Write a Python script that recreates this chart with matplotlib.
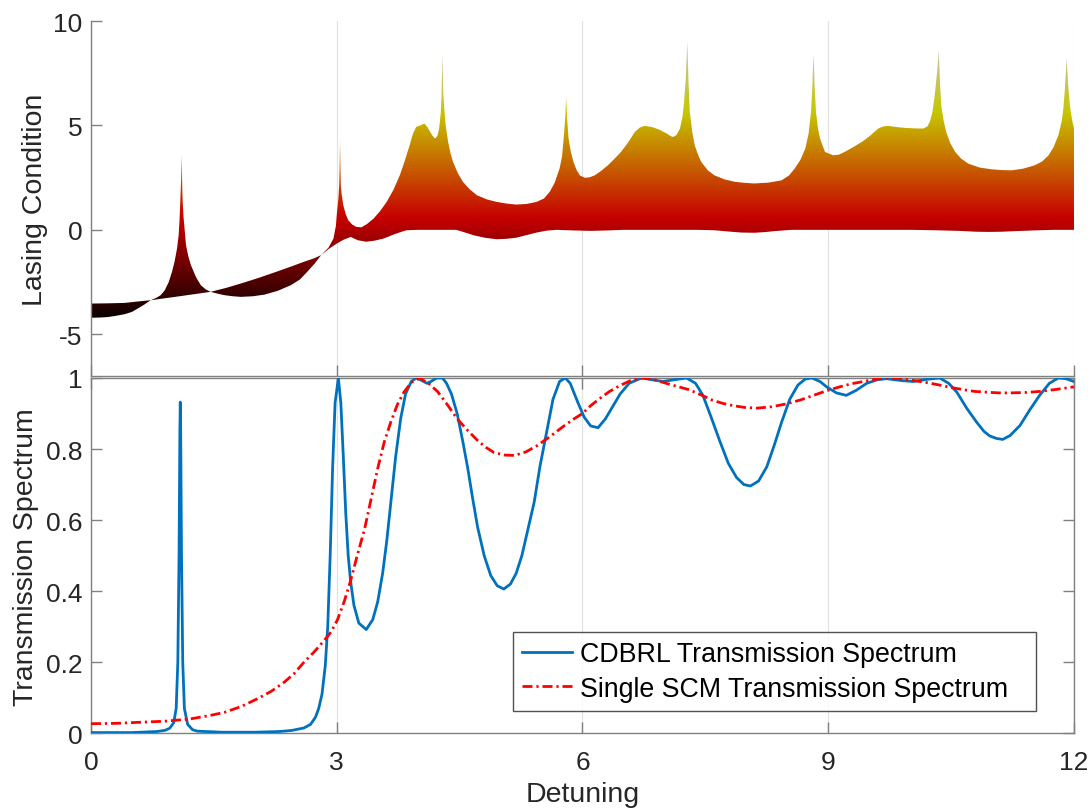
import numpy as np
import matplotlib
matplotlib.use('Agg')
import matplotlib.pyplot as plt
from matplotlib.colors import ListedColormap

plt.rcParams['font.family'] = ['Liberation Sans', 'DejaVu Sans']

# lasing condition: upper and lower envelope of the swept curves
xu = [0.00, 0.20, 0.41, 0.60, 0.73, 0.80, 0.85, 0.90, 0.95, 0.99, 1.02, 1.05, 1.07, 1.08, 1.09, 1.10,
      1.107, 1.115, 1.12, 1.13, 1.16, 1.19, 1.22, 1.28, 1.34, 1.40, 1.46,
      1.65, 1.83, 2.04, 2.24, 2.42, 2.60, 2.72, 2.81, 2.90, 2.96, 2.99, 3.00, 3.02, 3.03, 3.035,
      3.04, 3.045, 3.05, 3.06, 3.08, 3.11, 3.14, 3.19, 3.24, 3.30, 3.37, 3.45, 3.53, 3.61, 3.69,
      3.77, 3.83, 3.89, 3.93, 3.97, 4.02, 4.07, 4.11, 4.14, 4.17, 4.20, 4.23, 4.25, 4.27, 4.28,
      4.29, 4.30, 4.31, 4.33, 4.36, 4.39, 4.42, 4.48, 4.54, 4.62, 4.71, 4.83, 4.95, 5.07, 5.19,
      5.32, 5.44, 5.53, 5.60, 5.66, 5.72, 5.75, 5.77, 5.79, 5.80, 5.815, 5.83, 5.86, 5.89, 5.93,
      5.97, 6.03, 6.09, 6.15, 6.23, 6.31, 6.39, 6.47, 6.56, 6.64, 6.70, 6.76, 6.85, 6.93, 7.03,
      7.08, 7.11, 7.15, 7.19, 7.22, 7.24, 7.26, 7.28, 7.295, 7.31, 7.34, 7.37, 7.41, 7.45, 7.53,
      7.61, 7.73, 7.86, 7.98, 8.10, 8.27, 8.43, 8.52, 8.59, 8.66, 8.72, 8.76, 8.79, 8.805, 8.82,
      8.835, 8.85, 8.875, 8.90, 8.96, 9.06, 9.13, 9.20, 9.30, 9.41, 9.51, 9.61, 9.67, 9.73, 9.84,
      9.94, 10.05, 10.16, 10.21, 10.24, 10.27, 10.30, 10.33, 10.35, 10.365, 10.38, 10.41, 10.44,
      10.49, 10.55, 10.62, 10.71, 10.85, 10.99, 11.12, 11.24, 11.38, 11.52, 11.61, 11.69, 11.75,
      11.81, 11.85, 11.87, 11.89, 11.91, 11.93, 11.95, 11.975, 12.00]
yu = [-3.53, -3.52, -3.50, -3.42, -3.37, -3.25, -3.13, -2.90, -2.49, -2.00, -1.53, -0.90, -0.26, 0.40, 1.35, 2.40,
      3.57, 1.90, 1.30, 0.60, -0.74, -1.30, -1.69, -2.25, -2.65, -2.85, -2.97,
      -2.78, -2.57, -2.31, -2.04, -1.79, -1.53, -1.37, -1.21, -0.85, -0.42, 0.20, 0.70, 1.50, 2.13, 3.00,
      4.29, 3.00, 2.13, 1.70, 1.18, 0.75, 0.46, 0.25, 0.14, 0.12, 0.28, 0.54, 0.90, 1.34, 1.90,
      2.61, 3.30, 4.05, 4.60, 4.93, 5.00, 5.09, 4.90, 4.69, 4.50, 4.37, 4.50, 4.85, 5.60, 6.44,
      8.44, 6.60, 5.96, 5.00, 4.21, 3.65, 3.25, 2.70, 2.30, 1.95, 1.66, 1.46, 1.34, 1.26, 1.21,
      1.24, 1.34, 1.50, 1.82, 2.25, 2.93, 3.50, 4.37, 5.40, 6.36, 5.20, 4.37, 3.70, 3.25, 2.85,
      2.60, 2.49, 2.52, 2.61, 2.83, 3.09, 3.40, 3.73, 4.20, 4.69, 4.90, 4.98, 4.92, 4.81, 4.61,
      4.48, 4.45, 4.55, 4.85, 5.40, 6.12, 7.20, 9.02, 7.00, 5.65, 4.70, 4.05, 3.60, 3.25, 2.85,
      2.61, 2.42, 2.30, 2.25, 2.22, 2.26, 2.37, 2.60, 2.93, 3.35, 3.89, 4.60, 5.65, 6.80, 8.44,
      6.80, 5.65, 4.85, 4.37, 3.73, 3.57, 3.60, 3.73, 3.95, 4.21, 4.50, 4.85, 4.95, 4.98, 4.92,
      4.88, 4.86, 4.85, 4.95, 5.17, 5.60, 6.44, 7.60, 8.60, 7.00, 5.96, 5.20, 4.69,
      4.15, 3.73, 3.42, 3.17, 2.98, 2.90, 2.86, 2.85, 2.93, 3.09, 3.27, 3.57, 3.95,
      4.53, 5.20, 5.80, 6.80, 8.20, 6.90, 5.96, 5.30, 4.85]
xl = [0.00, 0.10, 0.20, 0.30, 0.41, 0.50, 0.57, 0.65, 0.73, 1.10, 1.46, 1.55, 1.63, 1.73, 1.83, 1.98,
      2.12, 2.28, 2.44, 2.55, 2.64, 2.73, 2.81, 2.90, 3.00, 3.08, 3.17, 3.26, 3.36, 3.46, 3.57, 3.71,
      3.85, 4.00, 4.14, 4.46, 4.56, 4.67, 4.81, 4.95, 5.07, 5.19, 5.32, 5.44, 5.56, 5.68, 5.90, 6.10,
      6.30, 6.50, 7.40, 7.61, 7.78, 7.94, 8.10, 8.22, 8.35, 8.55, 10.00, 10.30, 10.60, 10.80, 10.96,
      11.12, 11.30, 11.50, 11.75, 12.00]
yl = [-4.21, -4.20, -4.18, -4.12, -4.04, -3.93, -3.77, -3.58, -3.37, -3.17, -2.97, -3.06, -3.13, -3.18, -3.21, -3.18,
      -3.10, -2.92, -2.65, -2.38, -2.01, -1.62, -1.21, -0.92, -0.66, -0.48, -0.34, -0.50, -0.57, -0.52, -0.42, -0.20,
      -0.02, 0.00, 0.00, 0.00, -0.12, -0.26, -0.38, -0.45, -0.43, -0.38, -0.25, -0.13, -0.04, 0.00, -0.03, -0.05,
      -0.03, 0.00, 0.00, -0.02, -0.08, -0.13, -0.14, -0.11, -0.06, 0.00, 0.00, -0.02, -0.05, -0.09, -0.10,
      -0.09, -0.06, -0.03, 0.00, 0.00]

# transmission spectra
xb = [0.00, 0.50, 0.80, 0.90, 0.96, 1.01, 1.04, 1.06, 1.075, 1.085, 1.09, 1.095, 1.105, 1.12, 1.14, 1.18,
      1.24, 1.30, 1.60, 2.00, 2.30, 2.45, 2.60, 2.68, 2.74, 2.78, 2.82, 2.86, 2.89, 2.92, 2.95, 2.98,
      3.02, 3.05, 3.08, 3.11, 3.14, 3.17, 3.21, 3.27, 3.36, 3.44, 3.50, 3.56, 3.61, 3.66, 3.72, 3.78,
      3.84, 3.91, 3.97, 4.02, 4.10, 4.15, 4.22, 4.29, 4.34, 4.40, 4.47, 4.54, 4.60, 4.66, 4.72, 4.80,
      4.88, 4.96, 5.04, 5.12, 5.19, 5.26, 5.33, 5.41, 5.48, 5.57, 5.64, 5.72, 5.79, 5.85, 5.94, 6.02,
      6.10, 6.19, 6.28, 6.37, 6.46, 6.57, 6.72, 6.85, 6.98, 7.12, 7.27, 7.38, 7.47, 7.57, 7.68, 7.78,
      7.88, 7.97, 8.05, 8.15, 8.25, 8.34, 8.43, 8.53, 8.63, 8.72, 8.80, 8.90, 8.98, 9.10, 9.22, 9.34,
      9.47, 9.60, 9.71, 9.88, 10.04, 10.20, 10.36, 10.47, 10.57, 10.69, 10.81, 10.90, 10.97, 11.05,
      11.13, 11.22, 11.34, 11.46, 11.58, 11.70, 11.81, 11.90, 12.00]
yb = [0.002, 0.002, 0.005, 0.008, 0.014, 0.03, 0.07, 0.20, 0.50, 0.85, 0.932, 0.85, 0.50, 0.20, 0.07, 0.025,
      0.010, 0.006, 0.003, 0.003, 0.005, 0.008, 0.015, 0.025, 0.045, 0.07, 0.11, 0.19, 0.30, 0.50, 0.75, 0.93,
      1.00, 0.93, 0.78, 0.62, 0.50, 0.426, 0.36, 0.31, 0.292, 0.32, 0.37, 0.45, 0.54, 0.65, 0.78, 0.885,
      0.955, 0.99, 1.00, 0.995, 0.985, 0.99, 1.00, 1.00, 0.985, 0.955, 0.90, 0.82, 0.745, 0.66, 0.58, 0.50,
      0.444, 0.415, 0.406, 0.42, 0.45, 0.50, 0.57, 0.65, 0.75, 0.857, 0.94, 0.99, 1.00, 0.985, 0.933, 0.89,
      0.865, 0.86, 0.885, 0.92, 0.955, 0.985, 1.00, 0.995, 0.99, 0.995, 1.00, 0.985, 0.951, 0.89, 0.82, 0.76,
      0.72, 0.70, 0.696, 0.71, 0.75, 0.81, 0.875, 0.94, 0.98, 0.997, 1.00, 0.99, 0.975, 0.958, 0.951, 0.965,
      0.985, 0.995, 0.998, 0.993, 0.99, 0.996, 1.00, 0.985, 0.96, 0.915, 0.876, 0.85, 0.837, 0.83,
      0.827, 0.838, 0.866, 0.91, 0.951, 0.985, 1.00, 0.998, 0.99]
xr = [0.00, 0.30, 0.60, 0.90, 1.20, 1.45, 1.63, 1.83, 2.03, 2.20, 2.36, 2.48, 2.60, 2.72, 2.85, 2.93,
      3.01, 3.09, 3.17, 3.25, 3.34, 3.42, 3.50, 3.58, 3.66, 3.74, 3.82, 3.91, 4.01, 4.12, 4.23, 4.35,
      4.47, 4.60, 4.72, 4.82, 4.92, 5.05, 5.17, 5.31, 5.45, 5.62, 5.78, 5.89, 6.00, 6.10, 6.21, 6.33,
      6.46, 6.60, 6.74, 6.88, 7.02, 7.16, 7.30, 7.45, 7.59, 7.72, 7.84, 7.98, 8.13, 8.31, 8.49, 8.66,
      8.82, 8.98, 9.14, 9.29, 9.43, 9.57, 9.71, 9.88, 10.04, 10.20, 10.36, 10.50, 10.65, 10.79, 10.93,
      11.08, 11.22, 11.40, 11.58, 11.79, 12.00]
yr = [0.027, 0.028, 0.031, 0.034, 0.040, 0.050, 0.059, 0.075, 0.097, 0.118, 0.144, 0.168, 0.200, 0.228, 0.262, 0.285,
      0.320, 0.370, 0.430, 0.500, 0.575, 0.660, 0.745, 0.820, 0.876, 0.925, 0.960, 0.987, 1.000, 0.985, 0.962, 0.925,
      0.885, 0.852, 0.824, 0.805, 0.790, 0.783, 0.782, 0.792, 0.810, 0.838, 0.866, 0.884, 0.900, 0.922, 0.942, 0.962,
      0.979, 0.994, 1.000, 0.995, 0.985, 0.976, 0.967, 0.952, 0.937, 0.928, 0.922, 0.917, 0.915, 0.919, 0.927, 0.938,
      0.951, 0.964, 0.975, 0.984, 0.990, 0.996, 1.000, 0.998, 0.993, 0.987, 0.980, 0.973, 0.967, 0.962, 0.960,
      0.958, 0.958, 0.959, 0.962, 0.968, 0.975]

xticks = [0, 3, 6, 9, 12]
txt = '#262626'
spine = '#808080'

# dimmed "hot" colormap
hot = plt.get_cmap('hot')(np.linspace(0, 1, 256))
hot[:, :3] *= 0.78
dimhot = ListedColormap(hot)

fig = plt.figure(figsize=(10.91, 8.12), dpi=100)
ax1 = fig.add_axes([0.0834, 0.5357, 0.901, 0.4372])
ax2 = fig.add_axes([0.0834, 0.0957, 0.901, 0.4376])

# top panel: gradient clipped to the envelope polygon
poly = ax1.fill(np.concatenate([xu, xl[::-1]]), np.concatenate([yu, yl[::-1]]),
                facecolor='none', edgecolor='none')[0]
grad = np.linspace(-7, 10, 600).reshape(-1, 1)
im = ax1.imshow(grad, extent=[0, 12, -7, 10], origin='lower', aspect='auto',
                cmap=dimhot, vmin=-4.3, vmax=9, interpolation='bilinear', zorder=2)
im.set_clip_path(poly)
ax1.set_xlim(0, 12)
ax1.set_ylim(-7, 10)
ax1.set_xticks(xticks)
ax1.set_xticklabels([])
ax1.set_yticks([-5, 0, 5, 10])
ax1.set_yticklabels(['-5', '0', '5', '10'])
ax1.spines['top'].set_visible(False)
ax1.spines['right'].set_visible(False)
ax1.set_ylabel('Lasing Condition', fontsize=20.5, color=txt, labelpad=4)

# bottom panel
ax2.plot(xb, yb, color='#0072BD', lw=2, label='CDBRL Transmission Spectrum', zorder=3)
ax2.plot(xr, yr, color='#FF0000', lw=2, linestyle=(0, (3.6, 1.4, 0.8, 1.4)),
         label='Single SCM Transmission Spectrum', zorder=3)
ax2.set_xlim(0, 12)
ax2.set_ylim(0, 1)
ax2.set_xticks(xticks)
ax2.set_xticklabels([str(t) for t in xticks])
ax2.set_yticks([0, 0.2, 0.4, 0.6, 0.8, 1])
ax2.set_yticklabels(['0', '0.2', '0.4', '0.6', '0.8', '1'])
ax2.tick_params(top=True, right=True)
ax2.set_xlabel('Detuning', fontsize=20.5, color=txt, labelpad=5)
ax2.set_ylabel('Transmission Spectrum', fontsize=20.5, color=txt, labelpad=5)
leg = ax2.legend(loc='lower left', bbox_to_anchor=(0.4293, 0.063, 0.532, 0.1), mode='expand',
                 borderaxespad=0, fontsize=19.3, frameon=True, fancybox=False,
                 handlelength=1.85, handletextpad=0.3, labelspacing=0.3, borderpad=0.35)
leg.get_frame().set_edgecolor('#262626')
leg.get_frame().set_linewidth(1.0)

for ax in (ax1, ax2):
    ax.grid(axis='x', color='#e3e3e3', lw=0.9)
    ax.set_axisbelow(True)
    for s in ax.spines.values():
        s.set_color(spine)
        s.set_linewidth(1.0)
    ax.tick_params(direction='in', length=8, width=1, color=spine,
                   labelsize=19, labelcolor=txt)
    ax.tick_params(axis='y', pad=6)
    ax.tick_params(axis='x', pad=12)

fig.savefig('out.png', dpi=100)
